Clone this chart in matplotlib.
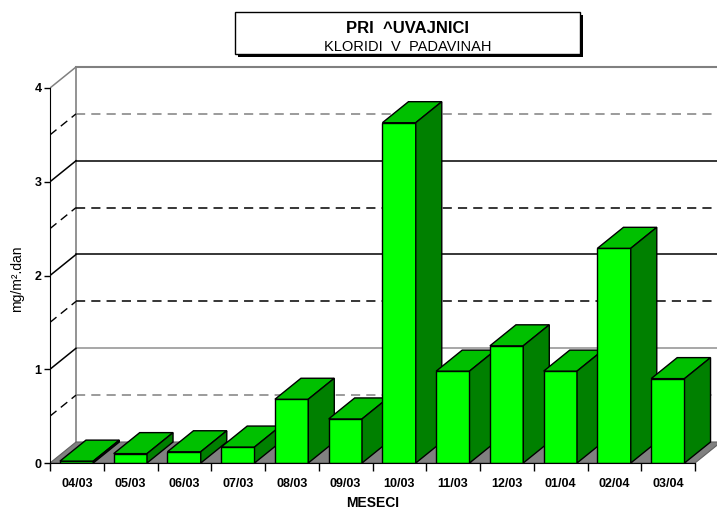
import matplotlib
matplotlib.use("Agg")
import matplotlib.pyplot as plt
from matplotlib.patches import Polygon, Rectangle

plt.rcParams['font.family'] = ['Liberation Sans', 'DejaVu Sans']

# monthly chloride deposition
meseci = ["04/03", "05/03", "06/03", "07/03", "08/03", "09/03",
          "10/03", "11/03", "12/03", "01/04", "02/04", "03/04"]
kloridi = [0.02, 0.10, 0.12, 0.17, 0.68, 0.47, 3.63, 0.98, 1.25, 0.98, 2.29, 0.90]
y_ticks = [0, 1, 2, 3, 4]

# oblique depth of the pseudo 3D box (data units)
DX = 0.484
DY = 0.224
BAR_L = 0.185
BAR_W = 0.62

C_FRONT = "#00ff00"
C_TOP = "#00c000"
C_SIDE = "#008000"
C_FLOOR = "#808080"

fig = plt.figure(figsize=(7.17, 5.11), dpi=100)
W, H = 717, 511
x0, y0 = 50, 463
px_x, px_y = 53.75, 93.75
ytop = 4.25
ax = fig.add_axes([x0 / W, (H - y0) / H, (W - x0) / W, ytop * px_y / H])
ax.set_xlim(0, (W - x0) / px_x)
ax.set_ylim(0, ytop)

n = len(meseci)
xmax = ax.get_xlim()[1]

# back wall
ax.plot([DX, DX], [DY, 4 + DY], color="#808080", lw=1.2, zorder=1)
ax.plot([DX, xmax], [4 + DY, 4 + DY], color="#808080", lw=1.5, zorder=1)
grid_cols = {0.5: "#808080", 1.0: "#909090", 1.5: "black", 2.0: "black",
             2.5: "black", 3.0: "black", 3.5: "#808080"}
for v, c in grid_cols.items():
    ls = "-" if v == int(v) else (0, (6, 4))
    ax.plot([DX, xmax], [v + DY, v + DY], color=c, lw=1.1, ls=ls, zorder=1)

# left side wall
for v in [0.5, 1, 1.5, 2, 2.5, 3, 3.5, 4]:
    if v == int(v):
        c = "#808080" if v == 4 else "black"
        ax.plot([0, DX], [v, v + DY], color=c, lw=1.1, zorder=1)
    else:
        ax.plot([0, DX], [v, v + DY], color="black", lw=1.0,
                ls=(0, (6, 4)), zorder=1)

# floor
ax.add_patch(Polygon([(0, 0), (n, 0), (n + DX, DY), (DX, DY)], closed=True,
                     facecolor=C_FLOOR, edgecolor="#606060", lw=0.8, zorder=2))

# bars, left to right so each one hides the side of the previous
for i, v in enumerate(kloridi):
    l = i + BAR_L
    r = l + BAR_W
    z = 3 + i * 0.01
    ax.add_patch(Polygon([(l, 0), (r, 0), (r, v), (l, v)], closed=True,
                         facecolor=C_FRONT, edgecolor="black", lw=1.0, zorder=z))
    ax.add_patch(Polygon([(l, v), (r, v), (r + DX, v + DY), (l + DX, v + DY)],
                         closed=True, facecolor=C_TOP, edgecolor="black",
                         lw=1.0, zorder=z))
    ax.add_patch(Polygon([(r, 0), (r + DX, DY), (r + DX, v + DY), (r, v)],
                         closed=True, facecolor=C_SIDE, edgecolor="black",
                         lw=1.0, zorder=z))

# front axes
for s in ["top", "right"]:
    ax.spines[s].set_visible(False)
ax.spines["left"].set_bounds(0, 4)
ax.spines["bottom"].set_bounds(0, n)
ax.spines["left"].set_zorder(5)
ax.spines["bottom"].set_zorder(5)
ax.patch.set_alpha(0)

ax.set_yticks(y_ticks)
ax.set_yticklabels([str(t) for t in y_ticks], fontsize=9, fontweight="bold")
ax.tick_params(axis="y", length=4, width=1, pad=2)

ax.set_xticks(range(n + 1))
ax.set_xticklabels([""] * (n + 1))
ax.set_xticks([i + 0.5 for i in range(n)], minor=True)
ax.set_xticklabels(meseci, minor=True, fontsize=9, fontweight="bold")
ax.tick_params(axis="x", which="major", length=6, width=1)
ax.tick_params(axis="x", which="minor", length=0, pad=11)

ax.set_xlabel("MESECI", fontsize=10, fontweight="bold")
ax.xaxis.set_label_coords((373 - x0) / (W - x0), -33 / (ytop * px_y))
ax.set_ylabel("mg/m².dan", fontsize=10)
ax.yaxis.set_label_coords(-26 / (W - x0), (463 - 279) / (ytop * px_y))

# title box with shadow
bx, by, bw, bh = 235, 12, 345, 42
fig.add_artist(Rectangle(((bx + 3) / W, (H - by - bh - 3) / H), bw / W, bh / H,
                         transform=fig.transFigure, facecolor="black",
                         edgecolor="black", lw=0))
fig.add_artist(Rectangle((bx / W, (H - by - bh) / H), bw / W, bh / H,
                         transform=fig.transFigure, facecolor="white",
                         edgecolor="black", lw=1))
fig.text((bx + bw / 2) / W, (H - 28.5) / H, "PRI  ^UVAJNICI", ha="center",
         va="center", fontsize=12, fontweight="bold")
fig.text((bx + bw / 2) / W, (H - 47) / H, "KLORIDI  V  PADAVINAH", ha="center",
         va="center", fontsize=10.5)

fig.savefig("out.png", dpi=100)
